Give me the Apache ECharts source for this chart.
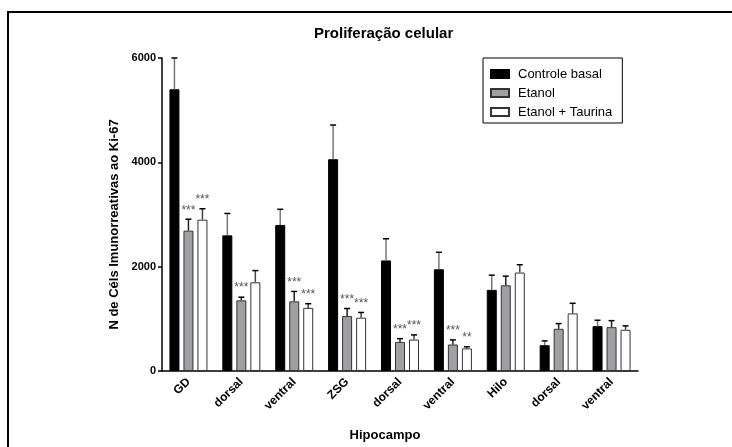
<!DOCTYPE html>
<html>
<head>
<meta charset="utf-8">
<script src="https://cdn.jsdelivr.net/npm/echarts@6/dist/echarts.min.js"></script>
<style>html,body{margin:0;padding:0;background:#fff;}#c{width:732px;height:447px;}</style>
</head>
<body>
<div id="c"></div>
<script>
var categories = ['GD', 'dorsal', 'ventral', 'ZSG', 'dorsal', 'ventral', 'Hilo', 'dorsal', 'ventral'];
var seriesNames = ['Controle basal', 'Etanol', 'Etanol + Taurina'];
var controle = [5400, 2600, 2800, 4060, 2120, 1950, 1555, 495, 860];
var controleErr = [600, 420, 300, 655, 415, 326, 282, 82, 113];
var etanol = [2690, 1355, 1335, 1053, 558, 508, 1642, 809, 840];
var etanolErr = [220, 60, 190, 145, 62, 88, 176, 100, 125];
var taurina = [2900, 1700, 1210, 1022, 602, 433, 1887, 1104, 790];
var taurinaErr = [210, 225, 80, 100, 90, 31, 150, 194, 75];
var controleSig = ['', '', '', '', '', '', '', '', ''];
var etanolSig = ['***', '***', '***', '***', '***', '***', '', '', ''];
var taurinaSig = ['***', '', '***', '***', '***', '**', '', '', ''];
var yTicks = [0, 2000, 4000, 6000];

var FONT = '"Liberation Sans", Arial, sans-serif';
var BAR_W = 10, BAR_GAP = 4;

function errSeries(vals, errs, sigs, slot, stemColor) {
  var data = vals.map(function (v, i) { return [i, v, errs[i], sigs[i]]; });
  return {
    type: 'custom',
    z: 5,
    silent: true,
    data: data,
    encode: { x: 0, y: 1 },
    renderItem: function (params, api) {
      var i = api.value(0), v = api.value(1), e = api.value(2);
      var sig = data[params.dataIndex][3];
      var base = api.coord([i, v]);
      var top = api.coord([i, v + e]);
      var x = base[0] + slot * (BAR_W + BAR_GAP);
      var children = [
        { type: 'line', shape: { x1: x, y1: base[1], x2: x, y2: top[1] }, style: { stroke: stemColor, lineWidth: 1.5 } },
        { type: 'line', shape: { x1: x - 3, y1: top[1], x2: x + 3, y2: top[1] }, style: { stroke: '#000', lineWidth: 1.5 } }
      ];
      if (sig) {
        children.push({ type: 'text', x: x, y: top[1] - 9, style: { text: sig, fill: '#555', font: '12px ' + FONT, align: 'center', verticalAlign: 'middle' } });
      }
      return { type: 'group', children: children };
    }
  };
}

var chart = echarts.init(document.getElementById('c'));
chart.setOption({
  animation: false,
  backgroundColor: '#fff',
  textStyle: { fontFamily: FONT },
  title: {
    text: 'Proliferação celular',
    left: 309, top: 21,
    textStyle: { fontFamily: FONT, fontSize: 15, fontWeight: 'bold', color: '#000' }
  },
  graphic: [
    { type: 'polyline', shape: { points: [[8, 460], [8, 12], [740, 12]] }, style: { stroke: '#000', lineWidth: 2, fill: null } }
  ],
  legend: {
    orient: 'vertical',
    left: 483, top: 58,
    padding: [9, 10, 4, 7],
    itemGap: 5,
    itemWidth: 18, itemHeight: 8,
    icon: 'rect',
    borderColor: '#000', borderWidth: 1,
    textStyle: { fontFamily: FONT, fontSize: 13, color: '#000', lineHeight: 14, padding: [0, 0, 0, 4] },
    data: seriesNames
  },
  grid: { left: 162, right: 94, top: 58, bottom: 70 },
  xAxis: {
    type: 'category',
    data: categories,
    name: 'Hipocampo',
    nameLocation: 'middle',
    nameGap: 58,
    nameTextStyle: { fontFamily: FONT, fontSize: 13, fontWeight: 'bold', color: '#000', padding: [0, 30, 0, 0] },
    axisLine: { lineStyle: { color: '#000', width: 1.5 } },
    axisTick: { alignWithLabel: true, length: 4, lineStyle: { color: '#000', width: 1.5 } },
    axisLabel: { rotate: 45, margin: 9, fontFamily: FONT, fontSize: 12, fontWeight: 'bold', color: '#000', interval: 0 }
  },
  yAxis: {
    type: 'value',
    min: 0, max: 6000, interval: 2000,
    name: 'N de Céls Imunorreativas ao Ki-67',
    nameLocation: 'middle',
    nameGap: 32,
    nameTextStyle: { fontFamily: FONT, fontSize: 13, fontWeight: 'bold', color: '#000', padding: [0, 20, 0, 0] },
    splitLine: { show: false },
    axisLine: { show: true, lineStyle: { color: '#000', width: 1.5 } },
    axisTick: { show: true, length: 4, lineStyle: { color: '#000', width: 1.5 } },
    axisLabel: { margin: 6, fontFamily: FONT, fontSize: 11, fontWeight: 'bold', color: '#000',
      formatter: function (v) { return yTicks.indexOf(v) >= 0 ? String(v) : ''; } }
  },
  series: [
    { name: seriesNames[0], type: 'bar', data: controle, barWidth: BAR_W, barGap: '40%',
      itemStyle: { color: '#000', borderColor: '#000', borderWidth: 1 } },
    { name: seriesNames[1], type: 'bar', data: etanol, barWidth: BAR_W, barGap: '40%',
      itemStyle: { color: '#a0a0a4', borderColor: '#333', borderWidth: 1 } },
    { name: seriesNames[2], type: 'bar', data: taurina, barWidth: BAR_W, barGap: '40%',
      itemStyle: { color: '#fff', borderColor: '#333', borderWidth: 1 } },
    errSeries(controle, controleErr, controleSig, -1, '#777'),
    errSeries(etanol, etanolErr, etanolSig, 0, '#222'),
    errSeries(taurina, taurinaErr, taurinaSig, 1, '#444')
  ]
});
</script>
</body>
</html>
